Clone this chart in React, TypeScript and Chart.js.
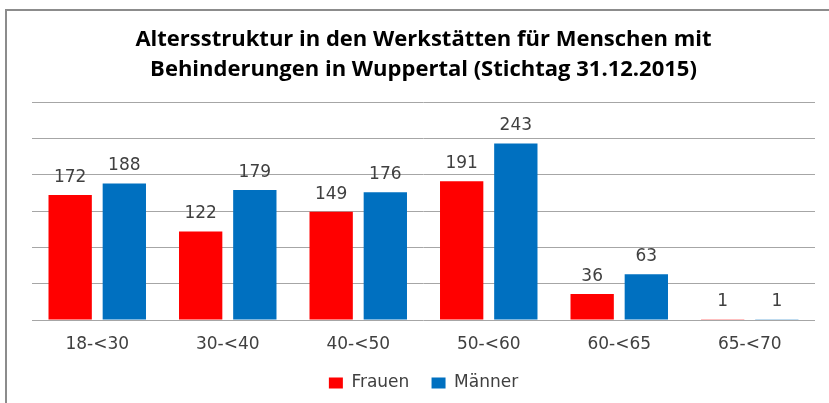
import React, { useEffect, useRef } from "react";
import { Chart, registerables } from "chart.js";

Chart.register(...registerables);

const titleLines = [
  "Altersstruktur in den Werkstätten für Menschen mit",
  "Behinderungen in Wuppertal (Stichtag 31.12.2015)",
];
const categories = ["18-<30", "30-<40", "40-<50", "50-<60", "60-<65", "65-<70"];
const frauen = [172, 122, 149, 191, 36, 1];
const maenner = [188, 179, 176, 243, 63, 1];
const seriesNames = ["Frauen", "Männer"];
const yMax = 300;
const yStep = 50;

const valueLabels = {
  id: "valueLabels",
  afterDatasetsDraw(chart: any) {
    const ctx = chart.ctx;
    ctx.save();
    ctx.font = "17px 'DejaVu Sans'";
    ctx.fillStyle = "#404040";
    ctx.textAlign = "center";
    ctx.textBaseline = "alphabetic";
    chart.data.datasets.forEach((ds: any, di: number) => {
      const meta = chart.getDatasetMeta(di);
      meta.data.forEach((bar: any, i: number) => {
        ctx.fillText(String(ds.data[i]), bar.x, bar.y - 13);
      });
    });
    ctx.restore();
  },
};

export default function App() {
  const ref = useRef<HTMLCanvasElement | null>(null);
  useEffect(() => {
    document.body.style.margin = "0";
    const chart = new Chart(ref.current as HTMLCanvasElement, {
      type: "bar",
      data: {
        labels: categories,
        datasets: [
          {
            label: seriesNames[0],
            data: frauen,
            backgroundColor: "#FF0000",
            categoryPercentage: 0.83,
            barPercentage: 0.8,
          },
          {
            label: seriesNames[1],
            data: maenner,
            backgroundColor: "#0070C0",
            categoryPercentage: 0.83,
            barPercentage: 0.8,
          },
        ],
      },
      options: {
        animation: false,
        responsive: false,
        layout: { padding: { left: 32, right: 14, top: 0, bottom: 1.5 } },
        plugins: {
          title: {
            display: true,
            text: titleLines,
            color: "#000000",
            font: { family: "'Open Sans'", weight: "bold", size: 22, lineHeight: 30 / 22 },
            padding: { top: 25, bottom: 17 },
          },
          legend: {
            display: true,
            position: "bottom",
            labels: {
              font: { family: "'DejaVu Sans'", size: 17 },
              color: "#404040",
              boxWidth: 14,
              boxHeight: 11,
              padding: 6,
              generateLabels(chart: any) {
                const items = Chart.defaults.plugins.legend.labels.generateLabels(chart);
                items.forEach((it: any, i: number) => {
                  if (i < items.length - 1) it.text = it.text + "   ";
                });
                return items;
              },
            },
          },
          tooltip: { enabled: false },
        },
        scales: {
          x: {
            grid: { display: false, drawTicks: false },
            border: { display: false },
            ticks: {
              font: { family: "'DejaVu Sans'", size: 17 },
              color: "#404040",
              padding: 14,
            },
          },
          y: {
            min: 0,
            max: yMax,
            ticks: { display: false, stepSize: yStep },
            grid: { color: "#A6A6A6", lineWidth: 1, drawTicks: false },
            border: { display: false },
          },
        },
      },
      plugins: [valueLabels],
    });
    return () => chart.destroy();
  }, []);
  return (
    <div style={{ position: "fixed", left: 0, top: 0, width: 829, height: 403, background: "#fff", overflow: "hidden" }}>
      <div
        style={{
          position: "absolute",
          left: 5,
          top: 9,
          width: 900,
          height: 500,
          border: "2px solid #8C8C8C",
          boxSizing: "border-box",
        }}
      />
      <canvas ref={ref} width={829} height={403} style={{ position: "absolute", left: 0, top: 0 }} />
    </div>
  );
}
